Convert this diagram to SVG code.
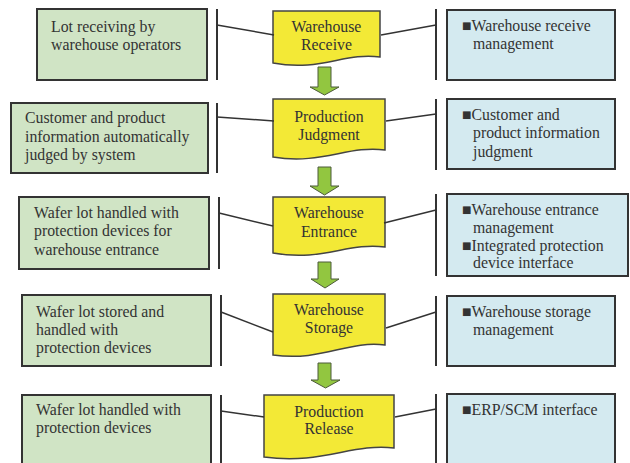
<svg xmlns="http://www.w3.org/2000/svg" width="630" height="463" viewBox="0 0 630 463" font-family="'Liberation Serif', 'DejaVu Serif', serif">
<style>
text{font-family:'Liberation Serif','DejaVu Serif',serif;font-size:15.8px;fill:#333}
.c{text-anchor:middle}
.g{fill:#d0e4c5;stroke:#333;stroke-width:2}
.b{fill:#d4eaf0;stroke:#333;stroke-width:2}
.d{fill:#f3e936;stroke:#444;stroke-width:1.5}
.a{fill:#92c640;stroke:#4d5a3a;stroke-width:1}
.bar{stroke:#333;stroke-width:2}
.ln{stroke:#333;stroke-width:1.5;fill:none}
</style>
<rect width="630" height="463" fill="#fff"/>
<g id="left1"><rect class="g" x="37" y="9" width="170" height="71"/><text x="51" y="32">Lot receiving by</text><text x="51" y="50">warehouse operators</text></g>
<g id="left2"><rect class="g" x="11" y="103" width="197" height="70"/><text x="25" y="123">Customer and product</text><text x="25" y="142">information automatically</text><text x="25" y="160">judged by system</text></g>
<g id="left3"><rect class="g" x="19" y="197" width="190" height="72"/><text x="34" y="218">Wafer lot handled with</text><text x="34" y="236">protection devices for</text><text x="34" y="255">warehouse entrance</text></g>
<g id="left4"><rect class="g" x="22" y="295" width="189" height="71"/><text x="36" y="317">Wafer lot stored and</text><text x="36" y="335">handled with</text><text x="36" y="353">protection devices</text></g>
<g id="left5"><rect class="g" x="22" y="395" width="189" height="80"/><text x="36" y="415">Wafer lot handled with</text><text x="36" y="433">protection devices</text></g>

<g id="right1"><rect class="b" x="447" y="10" width="168" height="70"/><text x="462" y="31">■Warehouse receive</text><text x="473" y="49">management</text></g>
<g id="right2"><rect class="b" x="447" y="99" width="168" height="70"/><text x="462" y="120">■Customer and</text><text x="473" y="138">product information</text><text x="473" y="157">judgment</text></g>
<g id="right3"><rect class="b" x="447" y="194" width="181" height="82"/><text x="462" y="215">■Warehouse entrance</text><text x="473" y="233">management</text><text x="462" y="251">■Integrated protection</text><text x="473" y="268">device interface</text></g>
<g id="right4"><rect class="b" x="447" y="296" width="168" height="70"/><text x="462" y="317">■Warehouse storage</text><text x="473" y="335">management</text></g>
<g id="right5"><rect class="b" x="447" y="394" width="168" height="80"/><text x="462" y="415">■ERP/SCM interface</text></g>

<g id="step1"><path class="d" d="M273,11H380V57C345,52 320,72 273,63Z"/><text class="c" x="326.5" y="32">Warehouse</text><text class="c" x="326.5" y="50">Receive</text></g>
<g id="step2"><path class="d" d="M273,99H385V150C348,145 322,165 273,157Z"/><text class="c" x="329" y="122">Production</text><text class="c" x="329" y="140">Judgment</text></g>
<g id="step3"><path class="d" d="M273,197H385V247C348,242 322,262 273,253Z"/><text class="c" x="329" y="218">Warehouse</text><text class="c" x="329" y="237">Entrance</text></g>
<g id="step4"><path class="d" d="M273,294H385V345C348,340 322,362 273,355Z"/><text class="c" x="329" y="315">Warehouse</text><text class="c" x="329" y="333">Storage</text></g>
<g id="step5"><path class="d" d="M264,395H394V448C352,443 322,465 264,457Z"/><text class="c" x="329" y="417">Production</text><text class="c" x="329" y="434">Release</text></g>

<g id="connectors">
<polygon class="a" points="318,67 331,67 331,87 339,87 324.5,95 310,87 318,87"/>
<polygon class="a" points="318,167 331,167 331,186 339,186 324.5,195 310,186 318,186"/>
<polygon class="a" points="318,262 331,262 331,279 339,279 325,288 311,279 318,279"/>
<polygon class="a" points="318,363 331,363 331,380 340,380 325.5,388 311,380 318,380"/>
<line class="bar" x1="217" y1="9" x2="217" y2="80"/>
<line class="bar" x1="217" y1="103" x2="217" y2="173"/>
<line class="bar" x1="219" y1="197" x2="219" y2="269"/>
<line class="bar" x1="221" y1="295" x2="221" y2="366"/>
<line class="bar" x1="221" y1="395" x2="221" y2="463"/>
<line class="bar" x1="436" y1="9" x2="436" y2="80"/>
<line class="bar" x1="436" y1="99" x2="436" y2="170"/>
<line class="bar" x1="436" y1="194" x2="436" y2="276"/>
<line class="bar" x1="436" y1="296" x2="436" y2="366"/>
<line class="bar" x1="436" y1="394" x2="436" y2="463"/>
<line class="ln" x1="217" y1="25" x2="274" y2="35"/>
<line class="ln" x1="381" y1="35" x2="436" y2="25"/>
<line class="ln" x1="217" y1="117" x2="274" y2="121"/>
<line class="ln" x1="386" y1="121" x2="436" y2="114"/>
<line class="ln" x1="219" y1="213" x2="273" y2="226"/>
<line class="ln" x1="384" y1="223" x2="436" y2="210"/>
<line class="ln" x1="221" y1="312" x2="273" y2="332"/>
<line class="ln" x1="386" y1="328" x2="436" y2="312"/>
<line class="ln" x1="221" y1="411" x2="264" y2="417"/>
<line class="ln" x1="395" y1="417" x2="436" y2="409"/>
</g>
</svg>
